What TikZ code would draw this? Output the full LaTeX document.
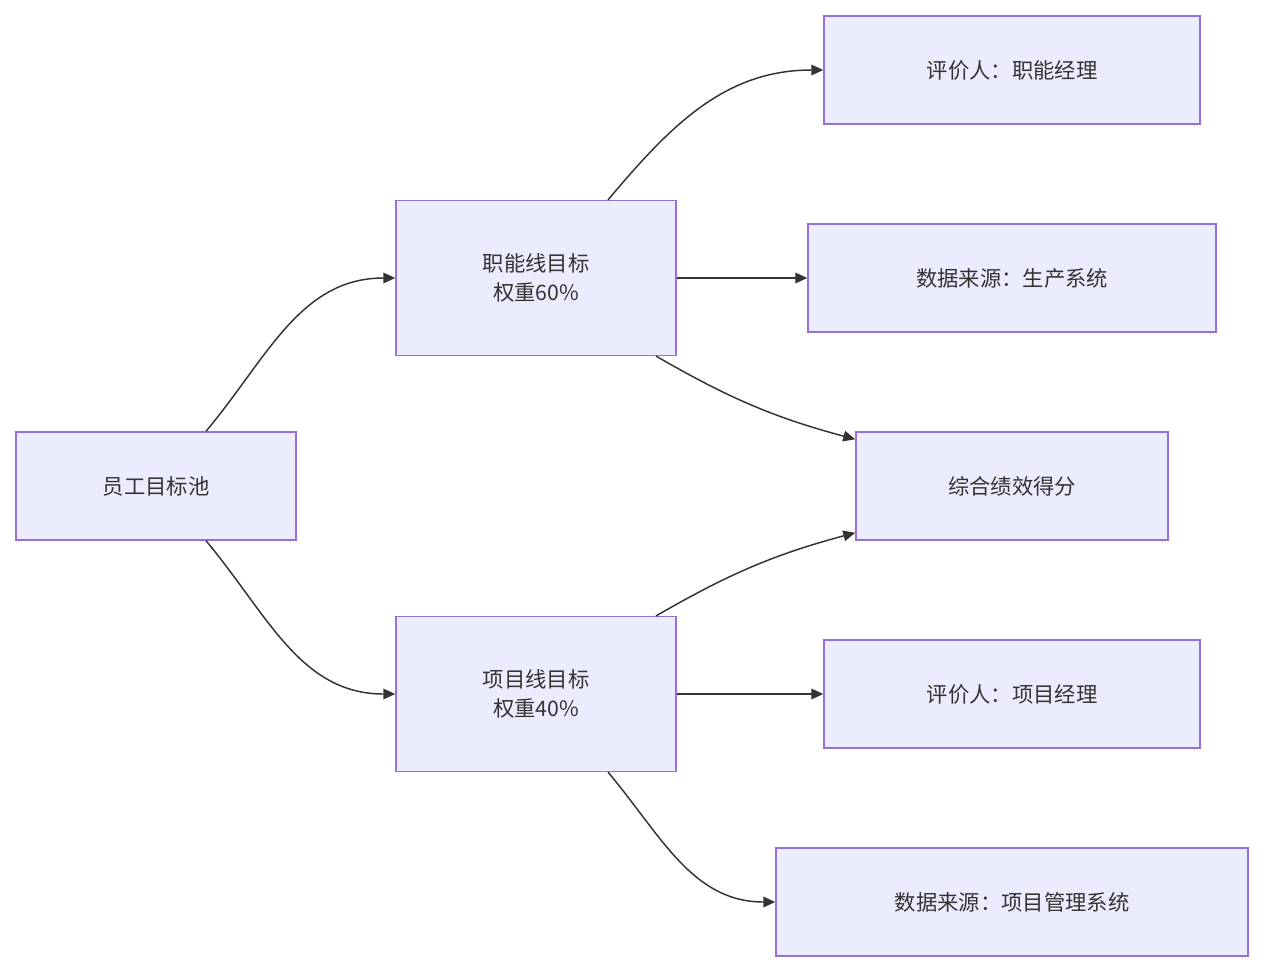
\documentclass[tikz,border=0pt]{standalone}
\usepackage{fontspec}
\setmainfont{Noto Sans CJK SC}
\usetikzlibrary{arrows.meta, positioning}
\definecolor{mmfill}{HTML}{ECECFF}
\definecolor{mmdraw}{HTML}{9370DB}
\definecolor{mmline}{HTML}{333333}

\begin{document}
\begin{tikzpicture}[
  x=0.75pt, y=-0.75pt,
  every node/.style={font=\fontsize{16}{22}\selectfont, text=mmline},
  box/.style={rectangle, draw=mmdraw, fill=mmfill, line width=1.1pt, align=center, minimum height=81pt},
  link/.style={draw=mmline, line width=1.1pt, -{Triangle[length=9pt, width=8pt]}},
]
\useasboundingbox (0,0) rectangle (1264,972);
\node[box, minimum width=210pt] (pool) at (156,486) {员工目标池};
\node[box, minimum width=210pt, minimum height=116pt] (func) at (536,278) {职能线目标\\权重60\%};
\node[box, minimum width=210pt, minimum height=116pt] (proj) at (536,694) {项目线目标\\权重40\%};
\node[box, minimum width=282pt] (evalf) at (1012,70) {评价人：职能经理};
\node[box, minimum width=306pt] (dataf) at (1012,278) {数据来源：生产系统};
\node[box, minimum width=234pt] (score) at (1012,486) {综合绩效得分};
\node[box, minimum width=282pt] (evalp) at (1012,694) {评价人：项目经理};
\node[box, minimum width=354pt] (datap) at (1012,902) {数据来源：项目管理系统};

% Connectors
\draw[link] ([xshift=37.5pt]pool.north) to[out=50, in=180] (func.west);
\draw[link] ([xshift=37.5pt]pool.south) to[out=-50, in=180] (proj.west);
\draw[link] ([xshift=54pt]func.north) to[out=50, in=180] (evalf.west);
\draw[link] (func.east) -- (dataf.west);
\draw[link] ([xshift=90pt]func.south) to[out=-30, in=165] ([yshift=-6pt]score.north west);
\draw[link] ([xshift=90pt]proj.north) to[out=30, in=-165] ([yshift=6pt]score.south west);
\draw[link] (proj.east) -- (evalp.west);
\draw[link] ([xshift=54pt]proj.south) to[out=-50, in=180] (datap.west);
\end{tikzpicture}
\end{document}
